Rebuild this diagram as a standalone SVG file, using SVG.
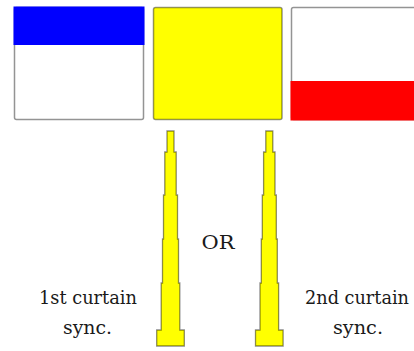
<svg xmlns="http://www.w3.org/2000/svg" width="414" height="351" viewBox="0 0 414 351">
  <style>
    .frame { stroke: #000; stroke-opacity: 0.42; stroke-width: 1.5; }
    .spike { fill: #ffff00; stroke: #000; stroke-opacity: 0.45; stroke-width: 1.3; stroke-linejoin: miter; }
    text { font-family: 'DejaVu Serif', 'Liberation Serif', serif; font-size: 18px; fill: #1a1a1a; }
  </style>
  <defs>
    <!-- stepped flash pulse, centred on x = 0 -->
    <path id="pulse" class="spike" d="M -3.5 131 H 3.5 V 152 H 5.7 V 195 H 7 V 239 H 8 V 283 H 9.3 V 330 H 13.8 V 346 H -13.8 V 330 H -9.3 V 283 H -8 V 239 H -7 V 195 H -5.7 V 152 H -3.5 Z"/>
  </defs>

  <!-- first curtain opening -->
  <g id="frame-first">
    <rect class="frame" x="14.5" y="7.5" width="129" height="112" rx="2" fill="#ffffff"/>
    <rect x="13.5" y="6.5" width="131" height="38.5" fill="#0000ff"/>
  </g>

  <!-- fully open shutter -->
  <g id="frame-open">
    <rect class="frame" x="153.5" y="7.5" width="128.5" height="112" rx="2" fill="#ffff00"/>
  </g>

  <!-- second curtain closing -->
  <g id="frame-second">
    <rect class="frame" x="291.5" y="7.5" width="130" height="112" rx="2" fill="#ffffff"/>
    <rect x="290.5" y="81" width="131" height="39.5" fill="#ff0000"/>
  </g>

  <!-- flash pulses -->
  <g id="pulse-first">
    <use href="#pulse" transform="translate(170.5,0)"/>
  </g>
  <g id="pulse-second">
    <use href="#pulse" transform="translate(269.3,0)"/>
  </g>

  <!-- labels -->
  <g id="label-or">
    <text x="218" y="249" text-anchor="middle" textLength="33" lengthAdjust="spacingAndGlyphs">OR</text>
  </g>
  <g id="label-first">
    <text x="88" y="304" text-anchor="middle" textLength="98" lengthAdjust="spacingAndGlyphs">1st curtain</text>
    <text x="87.5" y="334" text-anchor="middle" textLength="49" lengthAdjust="spacingAndGlyphs">sync.</text>
  </g>
  <g id="label-second">
    <text x="357" y="304" text-anchor="middle" textLength="104" lengthAdjust="spacingAndGlyphs">2nd curtain</text>
    <text x="358" y="334" text-anchor="middle" textLength="50" lengthAdjust="spacingAndGlyphs">sync.</text>
  </g>
</svg>
